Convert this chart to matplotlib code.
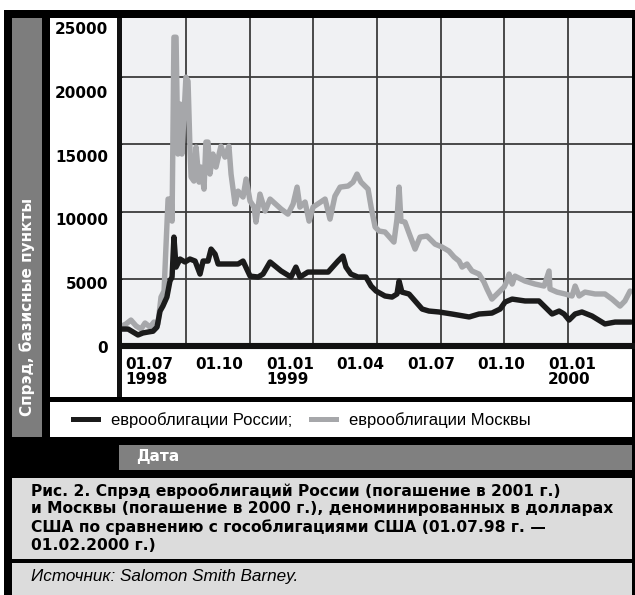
import matplotlib
matplotlib.use('Agg')
import numpy as np
import matplotlib.pyplot as plt
from matplotlib.patches import Rectangle
from matplotlib.transforms import ScaledTranslation

# =============================================================================
# Данные: спрэд (базисные пункты), ось X — месяцы от 01.07.1998
# =============================================================================

russia_month = [0.00, 0.26, 0.47, 0.68, 0.89, 1.11, 1.32, 1.49, 1.62, 1.74, 1.91, 2.04, 2.13,
                2.21, 2.30, 2.47, 2.68, 2.89, 3.11, 3.32, 3.45, 3.66, 3.79, 3.96, 4.09, 4.51,
                4.94, 5.15, 5.45, 5.79, 6.00, 6.30, 6.77, 7.19, 7.40, 7.57, 7.91, 8.77, 9.19,
                9.40, 9.53, 9.74, 10.04, 10.38, 10.60, 10.81, 11.19, 11.49, 11.70, 11.79, 11.91,
                12.21, 12.47, 12.77, 13.06, 13.49, 14.04, 14.77, 15.19, 15.74, 16.09, 16.30,
                16.60, 17.15, 17.74, 18.00, 18.30, 18.60, 18.81, 19.02, 19.28, 19.57, 20.00,
                20.55, 20.98, 21.40, 21.66]
russia_spread = [1260, 1260, 1040, 820, 970, 1040, 1100, 1410, 2600, 2970, 3640, 4830, 5130,
                 8100, 5870, 6470, 6250, 6470, 6320, 5350, 6320, 6320, 7210, 6840, 6100, 6100,
                 6100, 6320, 5200, 5130, 5350, 6250, 5580, 5130, 5870, 5130, 5500, 5500, 6320,
                 6690, 5870, 5350, 5130, 5130, 4460, 4090, 3720, 3640, 3870, 4830, 4010,
                 3870, 3350, 2750, 2600, 2530, 2380, 2160, 2380, 2450, 2750, 3270,
                 3490, 3350, 3350, 2900, 2380, 2600, 2380, 1930, 2380, 2530, 2230,
                 1640, 1780, 1780, 1780]

moscow_month = [0.00, 0.17, 0.38, 0.60, 0.81, 0.98, 1.19, 1.36, 1.53, 1.66, 1.79, 1.87, 1.96,
                2.09, 2.13, 2.21, 2.30, 2.38, 2.47, 2.55, 2.64, 2.72, 2.81, 2.89, 2.94, 3.06,
                3.15, 3.28, 3.36, 3.49, 3.57, 3.66, 3.74, 3.87, 4.00, 4.21, 4.38, 4.55, 4.64,
                4.81, 4.94, 5.15, 5.28, 5.45, 5.62, 5.70, 5.87, 6.09, 6.30, 6.77, 7.06, 7.28,
                7.45, 7.57, 7.79, 7.96, 8.13, 8.64, 8.85, 9.06, 9.28, 9.62, 9.83, 10.00, 10.17,
                10.47, 10.60, 10.77, 10.94, 11.19, 11.57, 11.70, 11.79, 11.87, 12.04, 12.26,
                12.47, 12.68, 12.98, 13.32, 13.62, 13.91, 14.13, 14.34, 14.47, 14.68, 14.89,
                15.19, 15.40, 15.53, 15.74, 16.04, 16.26, 16.38, 16.47, 16.60, 16.72, 17.15,
                17.57, 17.96, 18.17, 18.21, 18.51, 18.85, 19.15, 19.28, 19.45, 19.70, 20.13,
                20.55, 20.85, 21.19, 21.40, 21.62]
moscow_spread = [1490, 1640, 1930, 1490, 1260, 1710, 1410, 1780, 1640, 3640, 4090, 7360, 10930,
                 10930, 9290, 22970, 22970, 14280, 18000, 14280, 17250, 20000, 19700, 14800, 12570, 12270,
                 14800, 12190, 13310, 11670, 15170, 15170, 12790, 14280, 13310, 14870, 14050, 14870, 12790,
                 10560, 11520, 11080, 12420, 10780, 10330, 9220, 11300, 10040, 10930, 10190, 9810, 10560,
                 11820, 10330, 10710, 9290, 10330, 10930, 9440, 11150, 11820, 11900, 12190, 12790, 12190,
                 11670, 10330, 8850, 8550, 8480, 7730, 9440, 11820, 9290, 9220, 8180,
                 7210, 8100, 8180, 7580, 7360, 7060, 6620, 6320, 5870, 6100, 5580,
                 5350, 4760, 4240, 3490, 4010, 4390, 4830, 5350, 4610, 5200, 4830,
                 4610, 4460, 5580, 4240, 4010, 3870, 3720, 4460, 3720, 4010, 3870,
                 3870, 3490, 2970, 3350, 4090]

tick_months = [0, 3, 6, 9, 12, 15, 18]
tick_labels = ['01.07\n1998', '01.10', '01.01\n1999', '01.04', '01.07', '01.10', '01.01\n2000']
y_ticks = [0, 5000, 10000, 15000, 20000, 25000]

legend_labels = ['еврооблигации России;', 'еврооблигации Москвы']
y_title = 'Спрэд, базисные пункты'
x_title = 'Дата'
caption = ('Рис. 2. Спрэд еврооблигаций России (погашение в 2001 г.)\n'
           'и Москвы (погашение в 2000 г.), деноминированных в долларах\n'
           'США по сравнению с гособлигациями США (01.07.98 г. —\n'
           '01.02.2000 г.)')
source = 'Источник: Salomon Smith Barney.'

# =============================================================================
# Макет (в пикселях от левого верхнего угла)
# =============================================================================

W, H = 635, 595
fig = plt.figure(figsize=(W / 100, H / 100), dpi=100)
fig.patch.set_facecolor('white')


def box(x0, y0, x1, y1, color, z=-5):
    fig.add_artist(Rectangle((x0 / W, 1 - y1 / H), (x1 - x0) / W, (y1 - y0) / H,
                             transform=fig.transFigure, facecolor=color,
                             edgecolor='none', zorder=z))


def px_axes(x0, y0, x1, y1):
    return fig.add_axes([x0 / W, 1 - y1 / H, (x1 - x0) / W, (y1 - y0) / H])


box(4, 10, 635, 595, 'black', -10)
box(12, 18, 42, 437, '#7d7d7d')
box(50, 18, 632, 397, 'white')
box(50, 402, 632, 437, 'white')
box(119, 445, 632, 470, '#808080')
box(12, 478, 632, 559, '#dcdcdc')
box(12, 563, 632, 595, '#dcdcdc')
box(117, 18, 122, 397, '#111111', 5)

# --- основной график ---
ax = px_axes(122, 18, 632, 346)
ax.set_facecolor('#f0f1f3')
ax.set_xlim(0, 21.7)
ax.set_ylim(0, 24400)

ax.set_xticks(np.linspace(0, 21.7, 9)[1:-1], minor=True)
ax.set_yticks(y_ticks[1:-1], minor=True)
ax.grid(which='minor', color='#3c3c3c', linewidth=1.3)
ax.set_yticks([])
ax.tick_params(axis='x', which='both', length=0)
ax.set_xticks(tick_months)
ax.set_xticklabels(tick_labels, ha='left', va='top', fontsize=11,
                   fontweight='bold', family='DejaVu Sans', linespacing=1.0)
ax.tick_params(axis='x', pad=8)
for lbl in ax.get_xticklabels():
    lbl.set_transform(lbl.get_transform() + ScaledTranslation(3 / 100, 0, fig.dpi_scale_trans))

for s in ['top', 'left', 'right']:
    ax.spines[s].set_visible(False)
ax.spines['bottom'].set_linewidth(4.4)
ax.spines['bottom'].set_color('#111111')

line_moscow, = ax.plot(moscow_month, moscow_spread, color='#a6a7aa', linewidth=3.9,
                       solid_joinstyle='round', solid_capstyle='round', zorder=3)
line_russia, = ax.plot(russia_month, russia_spread, color='#1b1b1b', linewidth=3.9,
                       solid_joinstyle='round', solid_capstyle='round', zorder=4)

# --- подписи оси Y (отдельная колонка) ---
lab = px_axes(108, 28, 110, 347)
lab.set_ylim(0, 25000)
lab.set_yticks(y_ticks)
lab.set_yticklabels([str(v) for v in y_ticks], fontsize=11, fontweight='bold',
                    family='DejaVu Sans')
lab.tick_params(axis='y', length=0, pad=0)
lab.set_xticks([])
lab.patch.set_visible(False)
for s in lab.spines.values():
    s.set_visible(False)

# --- легенда ---
h_r = plt.Line2D([], [], color='#1b1b1b', linewidth=3.6)
h_m = plt.Line2D([], [], color='#a6a7aa', linewidth=3.6)
fig.legend([h_r, h_m], legend_labels, loc='center left',
           bbox_to_anchor=(58 / W, 1 - 420 / H), ncol=2, frameon=False,
           handlelength=1.5, handletextpad=0.8, columnspacing=1.1,
           prop={'family': 'Liberation Sans', 'size': 12})

# --- тексты ---
fig.text(27 / W, 1 - 307 / H, y_title, rotation=90, ha='center', va='center',
         color='white', fontsize=11, fontweight='bold', family='DejaVu Sans')
fig.text(136 / W, 1 - 457 / H, x_title, ha='left', va='center', color='white',
         fontsize=11, fontweight='bold', family='DejaVu Sans')
fig.text(31 / W, 1 - 483 / H, caption, ha='left', va='top', color='black',
         fontsize=11.2, fontweight='bold', family='DejaVu Sans', linespacing=1.22)
fig.text(31 / W, 1 - 577 / H, source, ha='left', va='center', color='black',
         fontsize=12.3, style='italic', family='Liberation Sans')

plt.savefig('out.png', dpi=100, facecolor=fig.get_facecolor())
